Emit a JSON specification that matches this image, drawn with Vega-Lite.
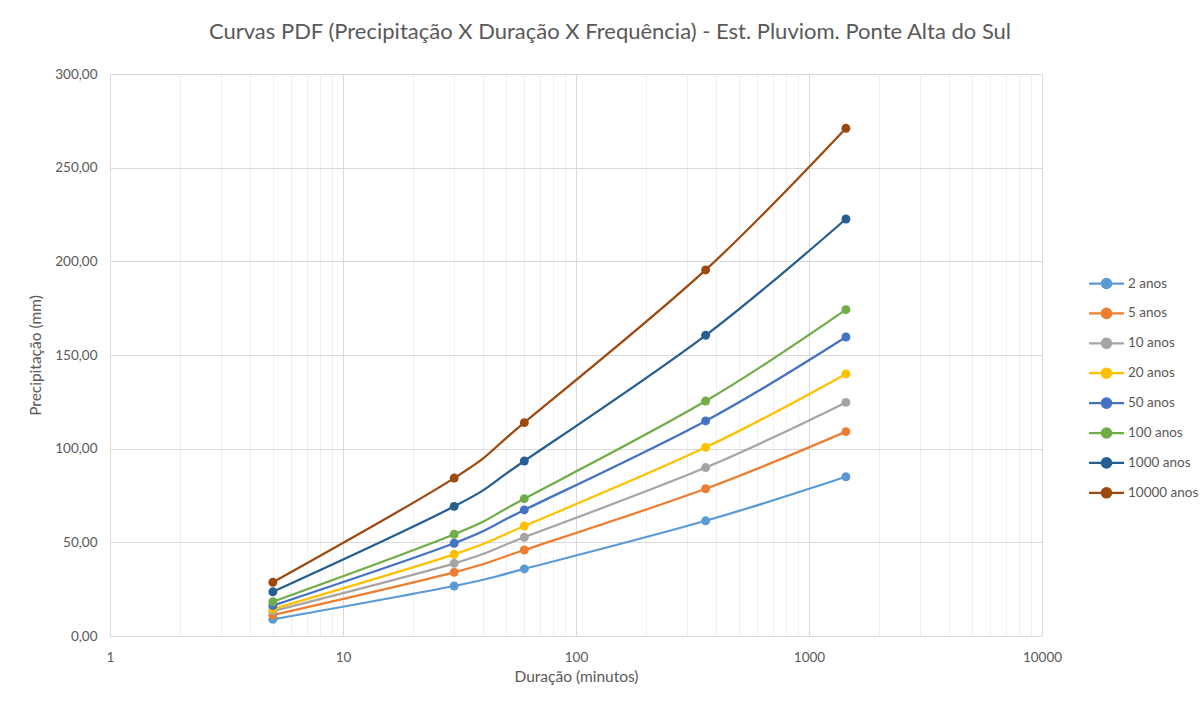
{
  "$schema": "https://vega.github.io/schema/vega-lite/v6.json",
  "autosize": "none",
  "width": 932,
  "height": 562,
  "padding": {"left": 110, "top": 74, "right": 158, "bottom": 70},
  "background": "white",
  "title": {
    "text": "Curvas PDF (Precipitação X Duração X Frequência) - Est. Pluviom. Ponte Alta do Sul",
    "font": "Lato",
    "fontSize": 22,
    "fontWeight": "normal",
    "color": "#595959",
    "anchor": "middle",
    "dx": 34,
    "offset": 23
  },
  "config": {
    "view": {"stroke": null},
    "font": "Lato"
  },
  "data": {
    "values": [
      {"d": 5, "p": 8.9, "s": "2 anos"},
      {"d": 30, "p": 26.7, "s": "2 anos"},
      {"d": 60, "p": 35.8, "s": "2 anos"},
      {"d": 360, "p": 61.5, "s": "2 anos"},
      {"d": 1440, "p": 85.0, "s": "2 anos"},
      {"d": 5, "p": 11.2, "s": "5 anos"},
      {"d": 30, "p": 34.0, "s": "5 anos"},
      {"d": 60, "p": 45.9, "s": "5 anos"},
      {"d": 360, "p": 78.6, "s": "5 anos"},
      {"d": 1440, "p": 109.1, "s": "5 anos"},
      {"d": 5, "p": 13.3, "s": "10 anos"},
      {"d": 30, "p": 38.8, "s": "10 anos"},
      {"d": 60, "p": 52.7, "s": "10 anos"},
      {"d": 360, "p": 89.9, "s": "10 anos"},
      {"d": 1440, "p": 124.7, "s": "10 anos"},
      {"d": 5, "p": 14.4, "s": "20 anos"},
      {"d": 30, "p": 43.6, "s": "20 anos"},
      {"d": 60, "p": 58.7, "s": "20 anos"},
      {"d": 360, "p": 100.7, "s": "20 anos"},
      {"d": 1440, "p": 139.9, "s": "20 anos"},
      {"d": 5, "p": 16.2, "s": "50 anos"},
      {"d": 30, "p": 49.5, "s": "50 anos"},
      {"d": 60, "p": 67.3, "s": "50 anos"},
      {"d": 360, "p": 114.8, "s": "50 anos"},
      {"d": 1440, "p": 159.6, "s": "50 anos"},
      {"d": 5, "p": 18.3, "s": "100 anos"},
      {"d": 30, "p": 54.3, "s": "100 anos"},
      {"d": 60, "p": 73.3, "s": "100 anos"},
      {"d": 360, "p": 125.4, "s": "100 anos"},
      {"d": 1440, "p": 174.2, "s": "100 anos"},
      {"d": 5, "p": 23.6, "s": "1000 anos"},
      {"d": 30, "p": 69.2, "s": "1000 anos"},
      {"d": 60, "p": 93.4, "s": "1000 anos"},
      {"d": 360, "p": 160.5, "s": "1000 anos"},
      {"d": 1440, "p": 222.6, "s": "1000 anos"},
      {"d": 5, "p": 28.7, "s": "10000 anos"},
      {"d": 30, "p": 84.3, "s": "10000 anos"},
      {"d": 60, "p": 113.9, "s": "10000 anos"},
      {"d": 360, "p": 195.4, "s": "10000 anos"},
      {"d": 1440, "p": 271.0, "s": "10000 anos"}
    ]
  },
  "mark": {
    "type": "line",
    "interpolate": "cardinal",
    "strokeWidth": 2.25,
    "point": {"filled": true, "size": 80, "opacity": 1}
  },
  "encoding": {
    "x": {
      "field": "d",
      "type": "quantitative",
      "scale": {"type": "log", "domain": [1, 10000], "nice": false},
      "axis": {
        "title": "Duração (minutos)",
        "titleFont": "Lato",
        "titleFontSize": 15.5,
        "titleFontWeight": "normal",
        "titleColor": "#595959",
        "titlePadding": 6,
        "values": [1,2,3,4,5,6,7,8,9,10,20,30,40,50,60,70,80,90,100,200,300,400,500,600,700,800,900,1000,2000,3000,4000,5000,6000,7000,8000,9000,10000],
        "format": "d",
        "labelExpr": "indexof([1,10,100,1000,10000], datum.value) >= 0 ? datum.label : ''",
        "labelOverlap": false,
        "labelFlush": false,
        "labelFont": "Lato",
        "labelFontSize": 13.5,
        "labelColor": "#595959",
        "labelPadding": 14,
        "ticks": false,
        "domain": false,
        "grid": true,
        "gridColor": {
          "condition": {"test": "indexof([1,10,100,1000,10000], datum.value) >= 0", "value": "#d9d9d9"},
          "value": "#f0f0f0"
        },
        "gridWidth": 1
      }
    },
    "y": {
      "field": "p",
      "type": "quantitative",
      "scale": {"domain": [0, 300], "nice": false},
      "axis": {
        "title": "Precipitação (mm)",
        "titleFont": "Lato",
        "titleFontSize": 15.5,
        "titleFontWeight": "normal",
        "titleColor": "#595959",
        "titlePadding": 11,
        "values": [0, 50, 100, 150, 200, 250, 300],
        "labelExpr": "replace(format(datum.value, '.2f'), '.', ',')",
        "labelFont": "Lato",
        "labelFontSize": 13.5,
        "labelColor": "#595959",
        "labelPadding": 13,
        "ticks": false,
        "domain": false,
        "grid": true,
        "gridColor": "#d9d9d9"
      }
    },
    "color": {
      "field": "s",
      "type": "nominal",
      "sort": ["2 anos", "5 anos", "10 anos", "20 anos", "50 anos", "100 anos", "1000 anos", "10000 anos"],
      "scale": {
        "domain": ["2 anos", "5 anos", "10 anos", "20 anos", "50 anos", "100 anos", "1000 anos", "10000 anos"],
        "range": ["#5B9BD5", "#ED7D31", "#A5A5A5", "#FFC000", "#4472C4", "#70AD47", "#255E91", "#9E480E"]
      },
      "legend": {
        "title": null,
        "orient": "none",
        "legendX": 985,
        "legendY": 198,
        "symbolType": "M-1.75,0L1.75,0M-0.47,0A0.47,0.47 0 1,0 0.47,0A0.47,0.47 0 1,0 -0.47,0Z",
        "symbolSize": 400,
        "symbolStrokeWidth": 2.25,
        "labelOffset": 10,
        "rowPadding": 8.9,
        "labelFont": "Lato",
        "labelFontSize": 13.5,
        "labelColor": "#595959",
        "encode": {
          "symbols": {
            "update": {
              "fill": {"scale": "color", "field": "value"},
              "stroke": {"scale": "color", "field": "value"},
              "opacity": {"value": 1}
            }
          }
        }
      }
    }
  }
}
